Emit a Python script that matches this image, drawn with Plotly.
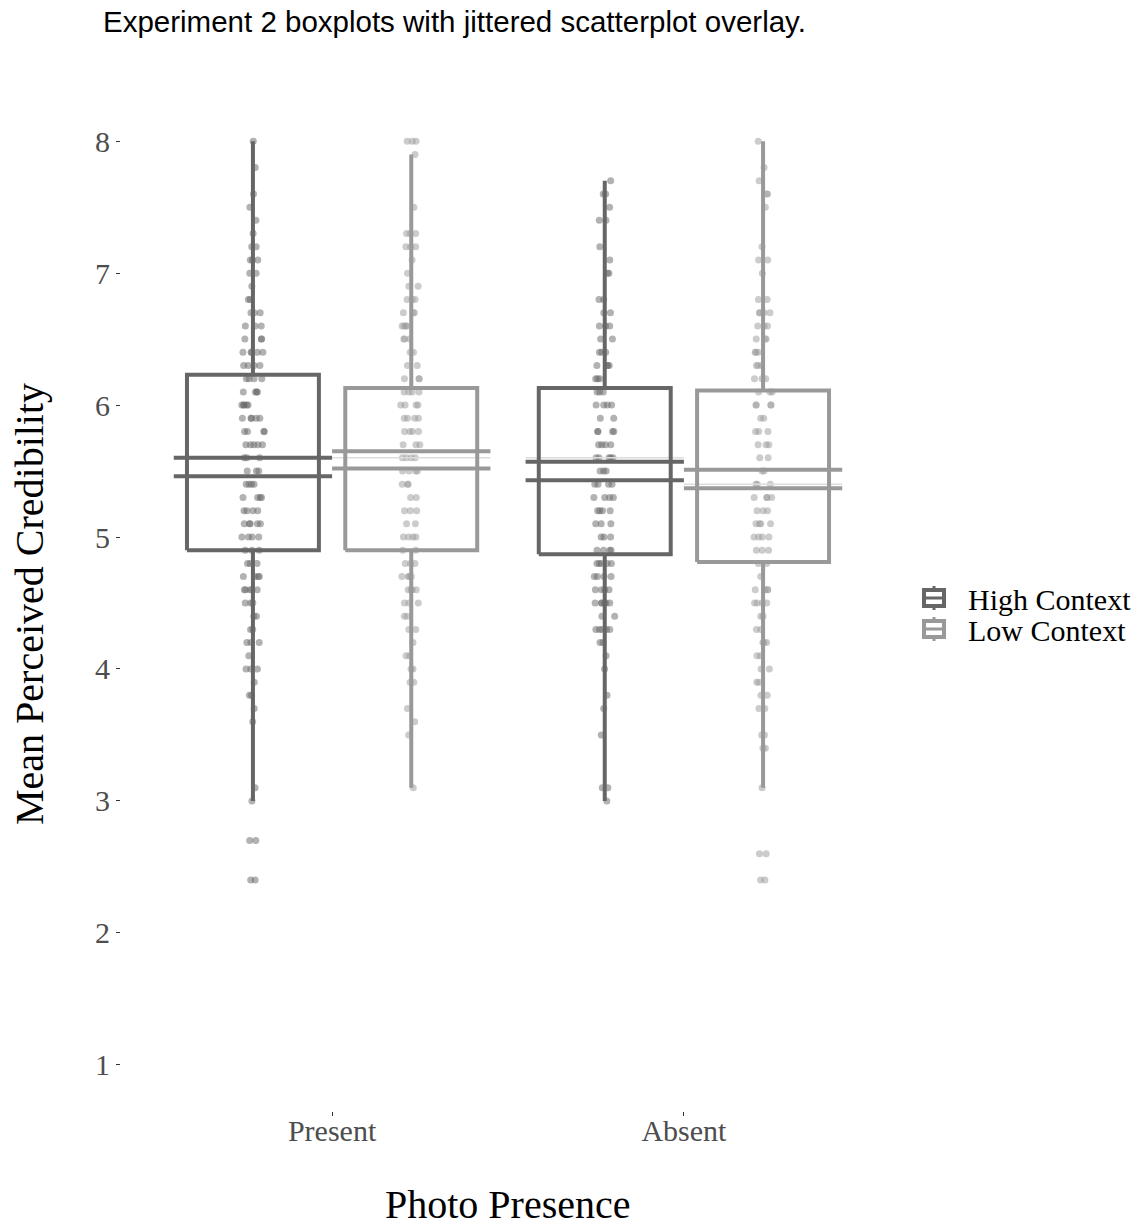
import numpy as np
import plotly.graph_objects as go

# Categories
photo = ["Present", "Absent"]
contexts = ["High Context", "Low Context"]

# Mean perceived credibility scores: score levels and number of participants at each level
high_present_levels = [8.0, 7.8, 7.6, 7.5, 7.4, 7.3, 7.2, 7.1, 7.0, 6.9, 6.8, 6.7, 6.6, 6.5, 6.4, 6.3,
                       6.2, 6.1, 6.0, 5.9, 5.8, 5.7, 5.6, 5.5, 5.4, 5.3, 5.2, 5.1, 5.0, 4.9, 4.8, 4.7,
                       4.6, 4.5, 4.4, 4.3, 4.2, 4.1, 4.0, 3.9, 3.8, 3.7, 3.6, 3.1, 3.0, 2.7, 2.4]
high_present_counts = [1, 1, 1, 1, 1, 1, 2, 3, 2, 1, 2, 3, 3, 3, 5, 4,
                       4, 4, 5, 5, 4, 5, 3, 3, 4, 4, 4, 5, 4, 3, 3, 4,
                       5, 3, 2, 2, 3, 1, 3, 1, 2, 1, 1, 1, 1, 2, 2]

low_present_levels = [8.0, 7.9, 7.5, 7.3, 7.2, 7.1, 7.0, 6.9, 6.8, 6.7, 6.6, 6.5, 6.4, 6.3, 6.2, 6.1,
                      6.0, 5.9, 5.8, 5.7, 5.6, 5.5, 5.4, 5.3, 5.2, 5.1, 5.0, 4.9, 4.8, 4.7, 4.6, 4.5,
                      4.4, 4.3, 4.2, 4.1, 4.0, 3.9, 3.7, 3.6, 3.5, 3.1]
low_present_counts = [3, 1, 1, 3, 3, 1, 1, 2, 3, 3, 4, 3, 2, 2, 3, 4,
                      4, 4, 4, 3, 4, 4, 3, 2, 3, 2, 4, 2, 3, 4, 4, 3,
                      2, 2, 1, 2, 2, 2, 1, 1, 1, 1]

high_absent_levels = [7.7, 7.6, 7.5, 7.4, 7.2, 7.1, 7.0, 6.8, 6.7, 6.6, 6.5, 6.4, 6.3, 6.2, 6.1, 6.0,
                      5.9, 5.8, 5.7, 5.6, 5.5, 5.4, 5.3, 5.2, 5.1, 5.0, 4.9, 4.8, 4.7, 4.6, 4.5, 4.4,
                      4.3, 4.2, 4.1, 4.0, 3.8, 3.7, 3.5, 3.1, 3.0]
high_absent_counts = [1, 2, 1, 2, 1, 1, 2, 2, 2, 3, 2, 3, 4, 3, 3, 4,
                      2, 4, 4, 5, 3, 4, 4, 4, 3, 3, 4, 5, 4, 4, 6, 2,
                      5, 2, 1, 1, 1, 1, 1, 2, 1]

low_absent_levels = [8.0, 7.8, 7.7, 7.6, 7.5, 7.2, 7.1, 7.0, 6.8, 6.7, 6.6, 6.5, 6.4, 6.3, 6.2, 6.1,
                     6.0, 5.9, 5.8, 5.7, 5.6, 5.5, 5.4, 5.3, 5.2, 5.1, 5.0, 4.9, 4.8, 4.7, 4.6, 4.5,
                     4.4, 4.3, 4.2, 4.1, 4.0, 3.9, 3.8, 3.7, 3.5, 3.4, 3.1, 2.6, 2.4]
low_absent_counts = [1, 1, 1, 2, 1, 1, 2, 1, 2, 4, 3, 3, 3, 3, 3, 3,
                     4, 2, 3, 3, 2, 2, 3, 4, 3, 4, 4, 3, 2, 1, 4, 4,
                     2, 2, 3, 2, 2, 2, 2, 2, 2, 2, 1, 2, 2]

# Box summaries per photo condition (Present, Absent)
high_q1 = [4.90, 4.87]
high_q3 = [6.23, 6.13]
high_whisker_lo = [3.0, 3.0]
high_whisker_hi = [8.0, 7.7]
high_median = [5.6, 5.6]
high_se_lo = [5.46, 5.43]
high_se_hi = [5.60, 5.57]

low_q1 = [4.90, 4.81]
low_q3 = [6.13, 6.11]
low_whisker_lo = [3.1, 3.1]
low_whisker_hi = [7.9, 8.0]
low_median = [5.6, 5.4]
low_se_lo = [5.52, 5.37]
low_se_hi = [5.65, 5.51]

scores = {
    ("High Context", "Present"): (high_present_levels, high_present_counts),
    ("High Context", "Absent"): (high_absent_levels, high_absent_counts),
    ("Low Context", "Present"): (low_present_levels, low_present_counts),
    ("Low Context", "Absent"): (low_absent_levels, low_absent_counts),
}
summary = {
    "High Context": dict(q1=high_q1, q3=high_q3, lo=high_whisker_lo, hi=high_whisker_hi,
                         med=high_median, se_lo=high_se_lo, se_hi=high_se_hi),
    "Low Context": dict(q1=low_q1, q3=low_q3, lo=low_whisker_lo, hi=low_whisker_hi,
                        med=low_median, se_lo=low_se_lo, se_hi=low_se_hi),
}

# Styling
line_color = {"High Context": "#666666", "Low Context": "#999999"}
point_color = {"High Context": "rgba(102,102,102,0.5)", "Low Context": "rgba(153,153,153,0.5)"}
dodge = {"High Context": -0.225, "Low Context": 0.225}
BOX_W = 0.375
BAR_W = 0.45
LW = 4
SERIF = "Liberation Serif, Times New Roman, serif"
SANS = "Liberation Sans, Arial, sans-serif"

# Page geometry (pixels) used to place the legend and axis titles outside the plot area
W, H = 1148, 1226
M_L, M_R, M_T, M_B = 121, 253, 95, 115
PLOT_W, PLOT_H = W - M_L - M_R, H - M_T - M_B


def px_x(px):
    return (px - M_L) / PLOT_W


def px_y(py):
    return (H - M_B - py) / PLOT_H


fig = go.Figure()

# Jittered raw scores (box outline hidden, only the points are shown)
for ctx in contexts:
    for i, ph in enumerate(photo):
        levels, counts = scores[(ctx, ph)]
        vals = np.repeat(levels, counts)
        fig.add_trace(go.Box(
            x=np.full(len(vals), i + dodge[ctx]), y=vals,
            width=BOX_W, boxpoints="all", jitter=0.17, pointpos=0,
            line=dict(width=0, color="rgba(0,0,0,0)"), fillcolor="rgba(0,0,0,0)",
            marker=dict(size=7, color=point_color[ctx], line=dict(width=0)),
            showlegend=False, hoverinfo="y", name=ctx,
        ))

# Boxes, whiskers, standard-error crossbars and medians
for ctx in contexts:
    s = summary[ctx]
    bx, by, wx, wy, cx, cy, mx, my = [], [], [], [], [], [], [], []
    for i in range(len(photo)):
        c = i + dodge[ctx]
        l, r = c - BOX_W / 2, c + BOX_W / 2
        bx += [l, r, r, l, l, None]
        by += [s["q1"][i], s["q1"][i], s["q3"][i], s["q3"][i], s["q1"][i], None]
        wx += [c, c, None, c, c, None]
        wy += [s["lo"][i], s["q1"][i], None, s["q3"][i], s["hi"][i], None]
        cl, cr = c - BAR_W / 2, c + BAR_W / 2
        cx += [cl, cr, None, cl, cr, None]
        cy += [s["se_hi"][i], s["se_hi"][i], None, s["se_lo"][i], s["se_lo"][i], None]
        mx += [cl, cr, None]
        my += [s["med"][i], s["med"][i], None]
    fig.add_trace(go.Scatter(x=mx, y=my, mode="lines", line=dict(color="#dddddd", width=1.5),
                             showlegend=False, hoverinfo="skip"))
    fig.add_trace(go.Scatter(x=wx, y=wy, mode="lines", line=dict(color=line_color[ctx], width=LW),
                             showlegend=False, hoverinfo="skip"))
    fig.add_trace(go.Scatter(x=bx, y=by, mode="lines", line=dict(color=line_color[ctx], width=LW),
                             showlegend=False, hoverinfo="skip"))
    fig.add_trace(go.Scatter(x=cx, y=cy, mode="lines", line=dict(color=line_color[ctx], width=LW),
                             showlegend=False, hoverinfo="skip"))

# Legend: small boxplot keys with labels
shapes, annotations = [], []
KEY_X = 934
for ctx, cy_px in zip(contexts, [598, 629]):
    col = line_color[ctx]
    shapes.append(dict(type="line", xref="paper", yref="paper",
                       x0=px_x(KEY_X), x1=px_x(KEY_X), y0=px_y(cy_px - 12), y1=px_y(cy_px + 12),
                       line=dict(color=col, width=3)))
    shapes.append(dict(type="rect", xref="paper", yref="paper",
                       x0=px_x(KEY_X - 10), x1=px_x(KEY_X + 10), y0=px_y(cy_px - 8), y1=px_y(cy_px + 8),
                       line=dict(color=col, width=4), fillcolor="white"))
    shapes.append(dict(type="line", xref="paper", yref="paper",
                       x0=px_x(KEY_X - 10), x1=px_x(KEY_X + 10), y0=px_y(cy_px), y1=px_y(cy_px),
                       line=dict(color=col, width=3)))
    annotations.append(dict(text=ctx, xref="paper", yref="paper", x=px_x(967), y=px_y(cy_px + 1),
                            xanchor="left", yanchor="middle", showarrow=False, borderpad=0,
                            font=dict(family=SERIF, size=30, color="black")))

# Axis titles
annotations.append(dict(text="Photo Presence", xref="paper", yref="paper",
                        x=px_x(508), y=px_y(1204), xanchor="center", yanchor="middle",
                        showarrow=False, font=dict(family=SERIF, size=40, color="black")))
annotations.append(dict(text="Mean Perceived Credibility", xref="paper", yref="paper",
                        x=px_x(29), y=px_y(604), xanchor="center", yanchor="middle",
                        textangle=-90, showarrow=False,
                        font=dict(family=SERIF, size=40, color="black")))

fig.update_layout(
    width=W, height=H, autosize=False,
    margin=dict(l=M_L, r=M_R, t=M_T, b=M_B),
    plot_bgcolor="white", paper_bgcolor="white",
    boxmode="overlay",
    showlegend=False,
    title=dict(text="Experiment 2 boxplots with jittered scatterplot overlay.",
               font=dict(family=SANS, size=29.5, color="black"),
               x=103 / W, xref="container", xanchor="left",
               y=1 - 22 / H, yref="container", yanchor="middle"),
    xaxis=dict(range=[-0.6, 1.6], tickmode="array", tickvals=[0, 1], ticktext=photo,
               showgrid=False, zeroline=False, showline=False, automargin=False,
               ticks="outside", ticklen=4, tickcolor="#333333", ticklabelstandoff=-11,
               tickfont=dict(family=SERIF, size=30, color="#4d4d4d")),
    yaxis=dict(range=[0.65, 8.35], tickmode="array", tickvals=[1, 2, 3, 4, 5, 6, 7, 8],
               showgrid=False, zeroline=False, showline=False, automargin=False,
               ticks="outside", ticklen=4, tickcolor="#333333",
               tickfont=dict(family=SERIF, size=30, color="#4d4d4d")),
    shapes=shapes,
    annotations=annotations,
)

fig.write_html("out.html")
